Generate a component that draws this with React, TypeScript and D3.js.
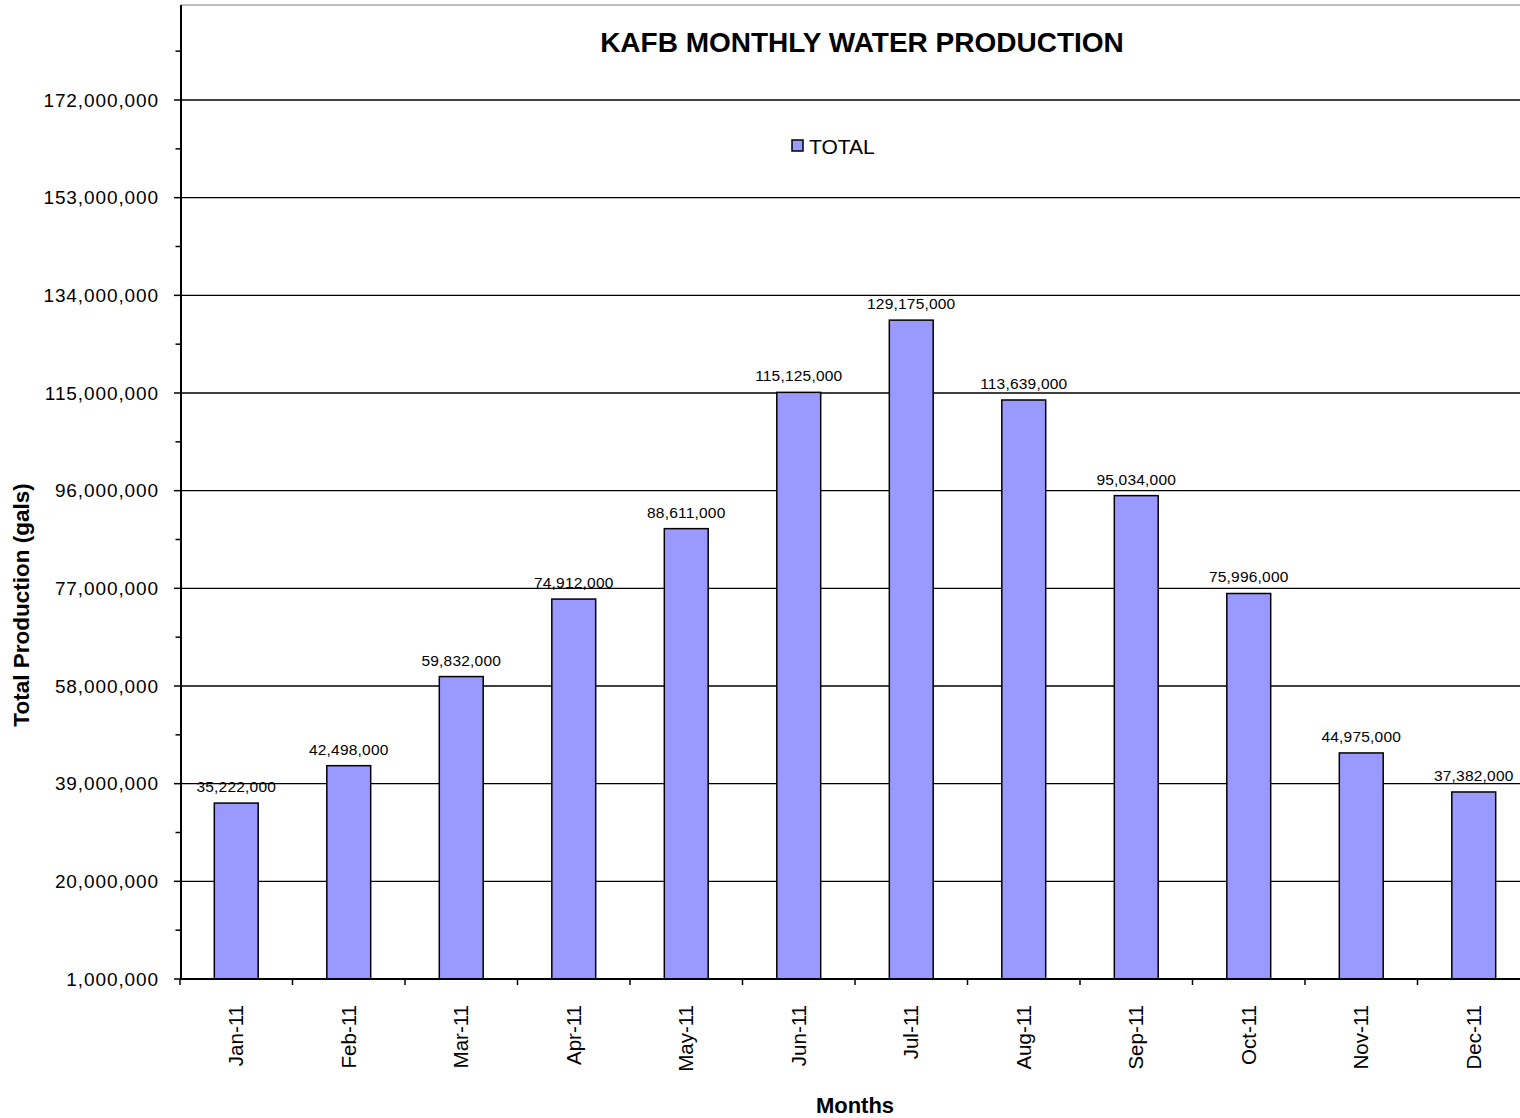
import React from "react";
import * as d3 from "d3";

const months = ["Jan-11","Feb-11","Mar-11","Apr-11","May-11","Jun-11","Jul-11","Aug-11","Sep-11","Oct-11","Nov-11","Dec-11"];
const totals = [35222000,42498000,59832000,74912000,88611000,115125000,129175000,113639000,95034000,75996000,44975000,37382000];
const yTicks = [1000000,20000000,39000000,58000000,77000000,96000000,115000000,134000000,153000000,172000000];
const minorTicks = [10500000,29500000,48500000,67500000,86500000,105500000,124500000,143500000,162500000,181500000];

const W = 1520, H = 1118;
const left = 181, right = 1530, bottom = 979, top = 5;

export default function App() {
  const x = d3.scaleBand<string>().domain(months).range([180, right]).paddingInner(0).paddingOuter(0);
  const y = d3.scaleLinear().domain([1000000, 172000000]).range([bottom, 100]);
  const fmt = d3.format(",");
  const bw = x.bandwidth() * 0.39;
  const font = "Arial, 'Liberation Sans', sans-serif";
  return (
    <svg width={W} height={H} style={{ position: "absolute", left: 0, top: 0, background: "#fff" }} fontFamily={font}>
      <rect x={0} y={0} width={W} height={H} fill="#fff" />
      <line x1={left} x2={W} y1={top} y2={top} stroke="#aaa" strokeWidth={1.5} />
      {yTicks.slice(1).map((t) => (
        <line key={"g" + t} x1={left} x2={W} y1={y(t)} y2={y(t)} stroke="#000" strokeWidth={1.4} />
      ))}
      {months.map((m, i) => {
        const cx = x(m)! + x.bandwidth() / 2;
        const yt = y(totals[i]);
        return (
          <g key={m}>
            <rect x={cx - bw / 2} y={yt} width={bw} height={bottom - yt} fill="#9999FF" stroke="#000" strokeWidth={1.5} />
            <text x={cx} y={yt - 11} textAnchor="middle" fontSize={15.5} letterSpacing={0.2} fill="#000">{fmt(totals[i])}</text>
            <text transform={`translate(${cx + 7},1005) rotate(-90)`} textAnchor="end" fontSize={20.5} fill="#000">{m}</text>
          </g>
        );
      })}
      {/* axes */}
      <line x1={left} x2={left} y1={top} y2={bottom} stroke="#000" strokeWidth={2} />
      <line x1={left} x2={W} y1={bottom} y2={bottom} stroke="#000" strokeWidth={2} />
      {yTicks.map((t) => (
        <g key={"t" + t}>
          <line x1={174} x2={left} y1={y(t)} y2={y(t)} stroke="#000" strokeWidth={1.5} />
          <text x={159} y={y(t) + 6.5} textAnchor="end" fontSize={19} letterSpacing={0.9} fill="#000">{fmt(t)}</text>
        </g>
      ))}
      {minorTicks.map((t) => (
        <line key={"m" + t} x1={175.5} x2={left} y1={y(t)} y2={y(t)} stroke="#000" strokeWidth={1.5} />
      ))}
      {months.map((m) => (
        <line key={"xt" + m} x1={x(m)!} x2={x(m)!} y1={bottom} y2={985} stroke="#000" strokeWidth={1.5} />
      ))}
      {/* title */}
      <text x={862} y={52} textAnchor="middle" fontSize={28} fontWeight="bold" fill="#000">KAFB MONTHLY WATER PRODUCTION</text>
      {/* legend */}
      <rect x={792} y={140} width={11} height={11} fill="#9999FF" stroke="#000" strokeWidth={1.5} />
      <text x={809} y={154} fontSize={21} fill="#000">TOTAL</text>
      {/* axis titles */}
      <text transform="translate(29,605) rotate(-90)" textAnchor="middle" fontSize={22.5} fontWeight="bold" fill="#000">Total Production (gals)</text>
      <text x={855} y={1113} textAnchor="middle" fontSize={22} fontWeight="bold" fill="#000">Months</text>
    </svg>
  );
}
